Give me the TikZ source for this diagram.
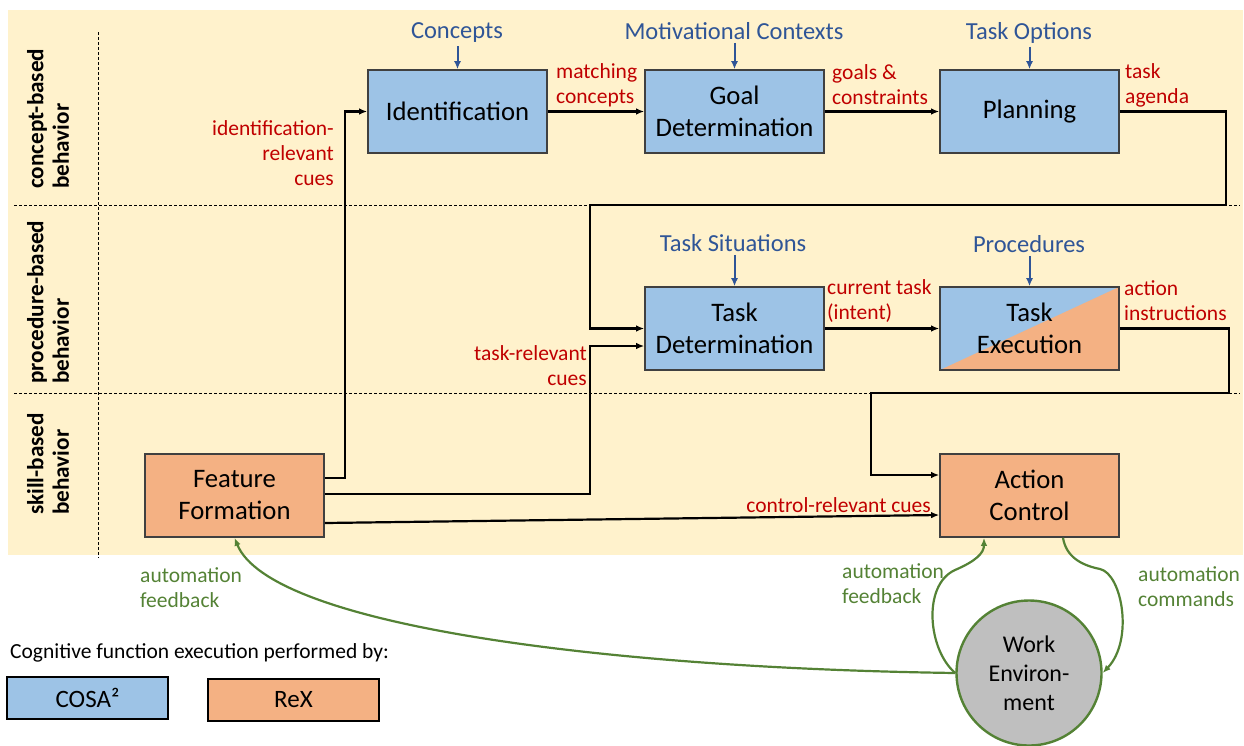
\documentclass[tikz,border=0pt]{standalone}
\usepackage{fontspec}
\setmainfont{Carlito}
\usetikzlibrary{arrows.meta,calc}

\definecolor{bandbg}{HTML}{FFF2CC}
\definecolor{cosablue}{HTML}{9DC3E6}
\definecolor{rexorange}{HTML}{F4B183}
\definecolor{cuered}{HTML}{C00000}
\definecolor{inputblue}{HTML}{2F5597}
\definecolor{autogreen}{HTML}{548235}
\definecolor{boxline}{HTML}{404040}
\definecolor{envgray}{HTML}{BFBFBF}

\tikzset{
  funcbox/.style={draw=boxline, line width=1.6pt, minimum width=179pt, minimum height=83pt,
    align=center, inner sep=2pt, font=\fontsize{26.7}{32}\selectfont},
  cosa/.style={funcbox, fill=cosablue},
  rex/.style={funcbox, fill=rexorange},
  split/.style={funcbox, fill=cosablue,
    path picture={\fill[rexorange] (path picture bounding box.south west) --
      (path picture bounding box.north east) -- (path picture bounding box.south east) -- cycle;}},
  conn/.style={line width=2.2pt, -{Latex[length=8pt,width=6.5pt]}},
  inarrow/.style={draw=inputblue, line width=2pt, -{Latex[length=8pt,width=7pt]}},
  inlabel/.style={text=inputblue, font=\fontsize{24.5}{28}\selectfont, inner sep=0pt},
  cuelabel/.style={text=cuered, font=\fontsize{21.5}{25}\selectfont, inner sep=0pt},
  autolabel/.style={text=autogreen, font=\fontsize{21.5}{25}\selectfont, inner sep=0pt, align=left},
  autoline/.style={draw=autogreen, line width=2.2pt, -{Latex[length=8pt,width=6.5pt]}},
  rowlabel/.style={rotate=90, anchor=west, align=left, inner sep=0pt,
    font=\fontsize{23.2}{25.5}\selectfont\bfseries},
  divider/.style={line width=0.8pt, dash pattern=on 3pt off 2pt},
  legendbox/.style={draw=black, line width=1.4pt, font=\fontsize{25}{28}\selectfont}
}

\begin{document}
\begin{tikzpicture}[x=1pt, y=-1pt]
\useasboundingbox (0,0) rectangle (1244,745);

% behaviour band background
\fill[bandbg] (8,10) rectangle (1243,555);

% level dividers
\draw[divider] (98,32) -- (98,558);
\draw[divider] (14,205) -- (1240,205);
\draw[divider] (14,393) -- (1240,393);

% level names
\node[rowlabel] (lvlconcept) at (48,189) {concept-based\\behavior};
\node[rowlabel] (lvlproc) at (48,384) {procedure-based\\behavior};
\node[rowlabel] (lvlskill) at (48,515) {skill-based\\behavior};

% cognitive functions
\node[cosa] (ident) at (457.5,111.5) {Identification};
\node[cosa] (goal) at (734.5,111.5) {Goal\\Determination};
\node[cosa] (plan) at (1029.5,111.5) {Planning};
\node[cosa] (taskdet) at (734.5,328.5) {Task\\Determination};
\node[split] (taskexe) at (1029.5,328.5) {Task\\Execution};
\node[rex] (feature) at (234.5,495.5) {Feature\\Formation};
\node[rex] (action) at (1029.5,495.5) {Action\\Control};

% knowledge inputs
\node[inlabel] (concepts) at (457,33) {Concepts};
\node[inlabel] (motiv) at (734,31) {Motivational Contexts};
\node[inlabel] (options) at (1029,33) {Task Options};
\node[inlabel] (situations) at (733,243) {Task Situations};
\node[inlabel] (procedures) at (1029,244) {Procedures};
\draw[inarrow] (ident.north |- concepts.south) ++(0,3) -- (ident.north);
\draw[inarrow] (goal.north |- motiv.south) ++(0,3) -- (goal.north);
\draw[inarrow] (plan.north |- options.south) ++(0,3) -- (plan.north);
\draw[inarrow] (taskdet.north |- situations.south) ++(0,3) -- (taskdet.north);
\draw[inarrow] (taskexe.north |- procedures.south) ++(0,3) -- (taskexe.north);

% main flow
\draw[conn] (ident.east) -- (goal.west);
\draw[conn] (goal.east) -- (plan.west);
\draw[conn] (plan.east) -- ++(106.5,0) |- (590,205) |- (taskdet.west);
\draw[conn] (taskdet.east) -- (taskexe.west);
\draw[conn] (taskexe.east) -- ++(109.5,0) |- (871,393) |- ($(action.west)+(0,-20.5)$);

% cues from feature formation
\draw[conn] ($(feature.east)+(0,-17.5)$) -- ++(20,0) |- (ident.west);
\draw[conn] ($(feature.east)+(0,-1.5)$) -- (590,494) |- ($(taskdet.west)+(0,17.5)$);
\draw[conn] ($(feature.east)+(0,27.5)$) -- ($(action.west)+(0,19.5)$);

% flow labels
\node[cuelabel, anchor=west, align=left] (lmatch) at (556,85) {matching\\concepts};
\node[cuelabel, anchor=west, align=left] (lgoals) at (832,85) {goals \&\\constraints};
\node[cuelabel, anchor=west, align=left] (lagenda) at (1125,85) {task\\agenda};
\node[cuelabel, anchor=east, align=right] (lidcues) at (334,153) {identification-\\relevant\\cues};
\node[cuelabel, anchor=east, align=right] (ltaskcues) at (587,366) {task-relevant\\cues};
\node[cuelabel, anchor=west, align=left] (lintent) at (827,301) {current task\\(intent)};
\node[cuelabel, anchor=west, align=left] (linstr) at (1124,301) {action\\instructions};
\node[cuelabel, anchor=east] (lctrl) at (931,505) {control-relevant cues};

% work environment and automation loops
\node[circle, draw=autogreen, line width=2.4pt, fill=envgray, minimum size=145pt,
  align=center, inner sep=0pt, font=\fontsize{24}{29}\selectfont] (env) at (1029,673)
  {Work\\Environ-\\ment};

\draw[autoline] (env.west) .. controls (600,668) and (270,625) .. (feature.south);
\draw[autoline] (env.west) .. controls (928,650) and (922,585) .. (955,570)
  .. controls (976,561) and (984,553) .. ($(action.south)+(-45.5,0)$);
\draw[autoline] ($(action.south)+(33.5,0)$) .. controls (1066,556) and (1080,565) .. (1100,569)
  .. controls (1122,574) and (1134,640) .. (env.east);

\node[autolabel, anchor=west] (lfbff) at (140,588) {automation\\feedback};
\node[autolabel, anchor=west] (lfbac) at (842,584) {automation\\feedback};
\node[autolabel, anchor=west] (lcmd) at (1138,587) {automation\\commands};

% legend
\node[anchor=west, inner sep=0pt, font=\fontsize{21.5}{24}\selectfont] (legtitle) at (10,653)
  {Cognitive function execution performed by:};
\node[legendbox, fill=cosablue, minimum width=161pt, minimum height=42pt] (legcosa) at (87.5,698) {COSA²};
\node[legendbox, fill=rexorange, minimum width=171pt, minimum height=42pt] (legrex) at (293.5,700) {ReX};
\end{tikzpicture}
\end{document}
